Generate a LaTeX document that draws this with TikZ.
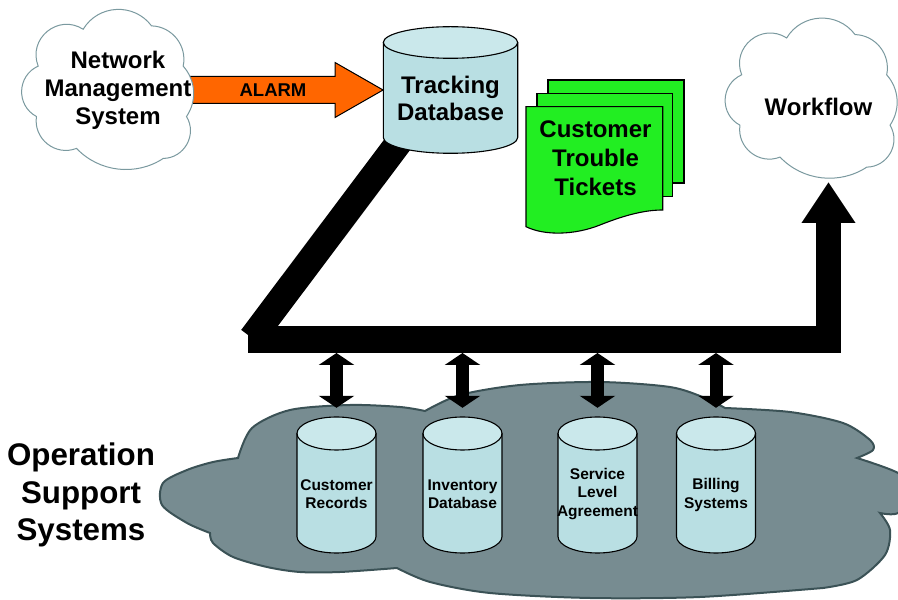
\documentclass[tikz,border=0pt]{standalone}
\usepackage{fontspec}
\setmainfont{Liberation Sans}
\usetikzlibrary{calc,arrows.meta}

\definecolor{cylbody}{HTML}{B9DFE3}
\definecolor{cyltop}{HTML}{CAE8EB}
\definecolor{tixgreen}{HTML}{22EE22}
\definecolor{alarmorange}{HTML}{FF6600}
\definecolor{ossgray}{HTML}{778C91}
\definecolor{ossline}{HTML}{3B5256}
\definecolor{cloudline}{HTML}{7A999F}

% database cylinder: name, centre x, centre y, half length, x radius, y radius
\newcommand\dbcyl[6]{%
  \fill[cylbody] (#2-#5,#3+#4) -- (#2-#5,#3-#4)
     arc[start angle=180,end angle=360,x radius=#5,y radius=#6] -- (#2+#5,#3+#4) -- cycle;
  \fill[cyltop] (#2,#3+#4) ellipse[x radius=#5,y radius=#6];
  \draw[cylline] (#2-#5,#3+#4) -- (#2-#5,#3-#4)
     arc[start angle=180,end angle=360,x radius=#5,y radius=#6] -- (#2+#5,#3+#4);
  \draw[cylline] (#2,#3+#4) ellipse[x radius=#5,y radius=#6];
  \node[inner sep=0,minimum width=2*#5,minimum height=2*#4+2*#6] (#1) at (#2,#3) {};
}

% eight-puff cloud outline: name, centre x, centre y
\newcommand\puffcloud[3]{%
  \begin{scope}[shift={(#2pt,#3pt)},x=86pt,y=80.5pt]
    \filldraw[cloudstyle] (-0.283,0.746)
      to[bend left=56,looseness=1.09] (0.512,0.788)
      to[bend left=50,looseness=1.04] (0.880,0.288)
      to[bend left=38,looseness=0.96] (0.919,-0.338)
      to[bend left=60,looseness=1.13] (0.648,-0.859)
      to[bend left=40,looseness=0.96] (-0.360,-0.734)
      to[bend left=60,looseness=1.13] (-0.826,-0.338)
      to[bend left=64,looseness=1.18] (-0.806,0.288)
      to[bend left=72,looseness=1.3] (-0.283,0.746) -- cycle;
  \end{scope}
  \node[inner sep=0,minimum width=172,minimum height=161] (#1) at (#2,#3) {};
}

\tikzset{
  cylline/.style={draw=black,line width=1.1pt},
  biglabel/.style={font=\bfseries\fontsize{24}{28}\selectfont,align=center,inner sep=0},
  smalllabel/.style={font=\bfseries\fontsize{15.5}{18.3}\selectfont,align=center,inner sep=0},
  cloudstyle/.style={draw=cloudline,fill=white,line width=1pt},
  ticket/.style={fill=tixgreen,draw=black,line width=1.1pt},
  alarm/.style={fill=alarmorange,draw=black,line width=1pt},
  dblarrow/.style={line width=13pt,
    {Triangle[length=12pt,width=35pt]}-{Triangle[length=12pt,width=35pt]}},
}

\begin{document}
\begin{tikzpicture}[x=1pt,y=1pt]
\useasboundingbox (0,0) rectangle (898,600);

% operation support systems cloud
\filldraw[fill=ossgray,draw=ossline,line width=2pt]
  plot[smooth] coordinates {(238,142) (252,172) (290,190) (350,195) (400,193) (425,189)}
  -- plot[smooth] coordinates {(425,189) (460,205) (520,215) (600,218) (670,213) (705,202) (725,192)}
  -- plot[smooth] coordinates {(725,192) (790,188) (843,177) (870,160) (873,150) (857,142)}
  -- plot[smooth] coordinates {(857,142) (898,127) (915,108) (898,87) (880,87)}
  -- plot[smooth] coordinates {(880,87) (890,70) (885,45) (857,20) (823,12)}
  -- plot[smooth] coordinates {(823,12) (700,3) (590,2) (490,7) (430,18) (397,32)}
  -- plot[smooth] coordinates {(397,32) (340,28) (300,28) (267,33) (233,43) (213,57) (210,67)}
  -- plot[smooth] coordinates {(210,67) (187,77) (162,95) (163,117) (187,130) (213,138) (238,142)}
  -- cycle;

% databases inside the cloud
\dbcyl{cr}{336.5}{115}{51.5}{39.5}{16.5}
\dbcyl{inv}{462.5}{115}{51.5}{39.5}{16.5}
\dbcyl{sla}{597.5}{115}{51.5}{39.5}{16.5}
\dbcyl{bill}{716}{115}{51.5}{39.5}{16.5}
\node[smalllabel] at (336.5,106) {Customer\\Records};
\node[smalllabel] at (462.5,106) {Inventory\\Database};
\node[smalllabel] at (597.5,106) {Service\\Level\\Agreement};
\node[smalllabel] at (716,105) {Billing\\Systems};

% main bus
\node[fill=black,inner sep=0,minimum width=593,minimum height=27,anchor=south west]
  (bus) at (248,247) {};
\coordinate (dtop) at (412,475);
\coordinate (dbot) at (252,262);
\draw[line width=27pt] (dtop) -- (dbot);
\coordinate (wfin) at (828.5,418);
\draw[line width=25pt,-{Triangle[length=41pt,width=51pt]}] (bus.south -| wfin) -- (wfin);

% links between the bus and the databases
\foreach \d in {cr,inv,sla,bill}
  \draw[dblarrow] (bus.south -| \d.north) -- ($(\d.north)+(0,9)$);

% tracking database
\dbcyl{trk}{450.5}{510}{47.5}{67.2}{15.8}
\node[biglabel,font=\bfseries\fontsize{24}{27}\selectfont] at (450.5,501.5) {Tracking\\Database};

% alarm from network management
\filldraw[alarm] (170,523.5) -- (335,523.5) -- (335,537.5) -- (trk.west)
  -- (335,482.5) -- (335,496.5) -- (170,496.5) -- cycle;
\node[font=\bfseries\fontsize{18.5}{22}\selectfont,inner sep=0] at (273,510) {ALARM};

\puffcloud{nms}{107.5}{510.7}
\node[biglabel] at (118,509.5) {Network\\Management\\System};

% trouble tickets
\filldraw[ticket] (548,520) rectangle (684,417);
\filldraw[ticket] (537,506.7) rectangle (672.7,403.3);
\filldraw[ticket] (526,493.3) -- (662.7,493.3) -- (662.7,390)
  .. controls (645,390) and (625,385) .. (600,375)
  .. controls (575,365) and (545,364) .. (526,373.3) -- cycle;
\node[biglabel,font=\bfseries\fontsize{24}{29}\selectfont] at (595.5,441.5) {Customer\\Trouble\\Tickets};

% workflow
\puffcloud{wf}{811}{502}
\node[biglabel] at (818.5,493.5) {Workflow};

% operation support systems label
\node[font=\bfseries\fontsize{31.3}{37.5}\selectfont,align=center,inner sep=0] (oss) at (81,105)
  {Operation\\Support\\Systems};
\end{tikzpicture}
\end{document}
